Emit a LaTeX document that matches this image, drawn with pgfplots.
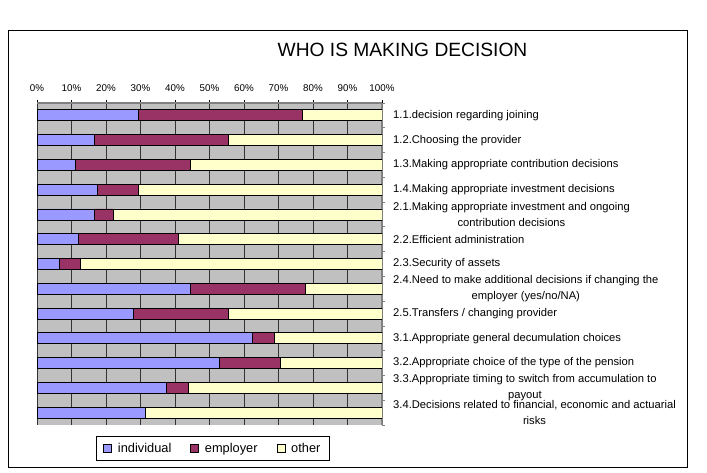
\documentclass[border=0pt]{standalone}
\usepackage{fontspec}
\setmainfont{Liberation Sans}
\usepackage{pgfplots}
\usepackage{pgfplotstable}
\pgfplotsset{compat=1.18}

\definecolor{indiv}{RGB}{153,153,255}
\definecolor{empl}{RGB}{153,51,102}
\definecolor{oth}{RGB}{255,255,204}
\definecolor{plotbg}{RGB}{192,192,192}
\definecolor{axgray}{RGB}{128,128,128}

% shares in percent, one row per question (top to bottom)
\pgfplotstableread{
idx individual employer other
0   29.3 47.5 23.2
1   16.5 39.1 44.4
2   11.0 33.5 55.5
3   17.4 11.9 70.7
4   16.5  5.7 77.8
5   12.0 29.0 59.0
6    6.4  6.1 87.5
7   44.5 33.4 22.1
8   28.0 27.6 44.4
9   62.4  6.4 31.2
10  52.9 17.7 29.4
11  37.6  6.3 56.1
12  31.4  0.0 68.6
}\decisions

\pgfplotsset{
  mybar/.style={fill=#1, draw=black, line width=0.8pt,
    legend image code/.code={
      \draw[##1, line width=0.6pt] (0pt,-4pt) rectangle (8pt,4pt);}},
}

\begin{document}
\begin{tikzpicture}[x=1pt,y=1pt]
\useasboundingbox (0,0) rectangle (707,472);
\draw[line width=0.9pt] (8,5) rectangle (687,442);
\node[font=\fontsize{19.2}{21}\selectfont] at (402.5,422.5) {WHO IS MAKING DECISION};

\begin{axis}[
  at={(37pt,47pt)}, anchor=south west,
  scale only axis, width=345pt, height=322pt,
  xbar stacked, bar width=11pt,
  xmin=0, xmax=100, ymin=-0.5, ymax=12.5, y dir=reverse,
  axis x line*=top, axis y line*=right,
  axis line style={axgray, line width=1.5pt},
  axis background/.style={fill=plotbg},
  xtick={0,10,...,100},
  xticklabels={0\%,10\%,20\%,30\%,40\%,50\%,60\%,70\%,80\%,90\%,100\%},
  xticklabel style={font=\fontsize{9.8}{11}\selectfont, yshift=5pt},
  xmajorgrids, grid style={black!80, line width=0.8pt},
  tick align=outside, major tick length=3pt, minor tick length=3pt,
  major x tick style={black, line width=0.8pt},
  major y tick style={draw=none},
  minor y tick style={axgray, line width=0.8pt},
  ytick={0,...,12},
  minor ytick={-0.5,0.5,...,12.5},
  yticklabels={
    {1.1.decision regarding joining},
    {1.2.Choosing the provider},
    {1.3.Making appropriate contribution decisions},
    {1.4.Making appropriate investment decisions},
    {2.1.Making appropriate investment and ongoing\\contribution decisions},
    {2.2.Efficient administration},
    {2.3.Security of assets},
    {2.4.Need to make additional decisions if changing the\\employer (yes/no/NA)},
    {2.5.Transfers / changing provider},
    {3.1.Appropriate general decumulation choices},
    {3.2.Appropriate choice of the type of the pension},
    {3.3.Appropriate timing to switch from accumulation to\\payout},
    {3.4.Decisions related to financial, economic and actuarial\\risks},
  },
  yticklabel style={font=\fontsize{11.2}{15.5}\selectfont, align=center,
    anchor=west, inner sep=0pt, xshift=8pt},
  legend style={at={(axis description cs:0.171,0)}, anchor=north west,
    yshift=-11pt, draw=black, line width=0.8pt,
    font=\fontsize{12.8}{14}\selectfont, inner xsep=7pt, inner ysep=4.5pt,
    /tikz/every odd column/.append style={column sep=4pt},
    /tikz/every even column/.append style={column sep=17pt}},
  legend columns=3,
]
\addplot[mybar=indiv] table[x=individual, y=idx] {\decisions};
\addlegendentry{individual}
\addplot[mybar=empl] table[x=employer, y=idx] {\decisions};
\addlegendentry{employer}
\addplot[mybar=oth] table[x=other, y=idx] {\decisions};
\addlegendentry{other}
\end{axis}
\end{tikzpicture}
\end{document}
